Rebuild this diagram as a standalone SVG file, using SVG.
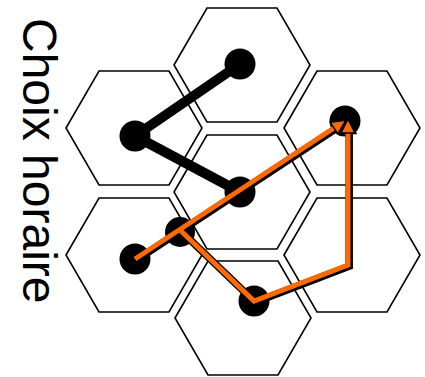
<svg xmlns="http://www.w3.org/2000/svg" width="425" height="377" viewBox="0 0 425 377">
<defs>
<style>
.hex{fill:#fff;stroke:#000;stroke-width:1.6}
.blk{fill:none;stroke:#000;stroke-width:10;stroke-linejoin:round}
.dot{fill:#000}
.sh{fill:none;stroke:#000;stroke-width:7.5;stroke-linejoin:miter}
.or{fill:none;stroke:#ff6a00;stroke-width:5;stroke-linejoin:miter}
.lbl{font-family:"Liberation Sans",Arial,sans-serif;font-size:48px;fill:#000}
</style>
<polygon id="h" points="-68,0 -35,-57 35,-57 68,0 35,57 -35,57"/>
<marker id="ah" markerUnits="userSpaceOnUse" markerWidth="16" markerHeight="16" refX="0" refY="7" orient="auto" overflow="visible">
<path d="M0,0 L14,7 L0,14 z" fill="#ff6a00" stroke="#000" stroke-width="1.5" stroke-linejoin="miter"/>
</marker>
<marker id="ahs" markerUnits="userSpaceOnUse" markerWidth="18" markerHeight="18" refX="0" refY="8" orient="auto" overflow="visible">
<path d="M0,0 L16,8 L0,16 z" fill="#000"/>
</marker>
</defs>
<rect width="425" height="377" fill="#fff"/>
<text class="lbl" transform="translate(23,18) rotate(90)">Choix horaire</text>
<g id="hex-top"><use href="#h" class="hex" x="242" y="65"/></g>
<g id="hex-ul"><use href="#h" class="hex" x="134" y="128"/></g>
<g id="hex-ur"><use href="#h" class="hex" x="352" y="128"/></g>
<g id="hex-c"><use href="#h" class="hex" x="242" y="192"/></g>
<g id="hex-ll"><use href="#h" class="hex" x="134" y="255"/></g>
<g id="hex-lr"><use href="#h" class="hex" x="352" y="255"/></g>
<g id="hex-b"><use href="#h" class="hex" x="243" y="318"/></g>
<g id="connectors">
<polyline class="blk" points="240,64 135,136 240,192"/>
</g>
<g id="dots">
<circle class="dot" cx="240" cy="64" r="15.5"/>
<circle class="dot" cx="135" cy="136" r="15.5"/>
<circle class="dot" cx="240" cy="192" r="15.5"/>
<circle class="dot" cx="180" cy="232" r="15"/>
<circle class="dot" cx="135" cy="259" r="15.5"/>
<circle class="dot" cx="254" cy="301" r="15.5"/>
<circle class="dot" cx="345" cy="121" r="15.5"/>
</g>
<g id="orange-paths">
<g transform="translate(1.2,1.2)">
<polyline class="sh" points="135,259 334,128" marker-end="url(#ahs)"/>
<polyline class="sh" points="180,230 254,301 348,265 348,133" marker-end="url(#ahs)"/>
</g>
<polyline class="or" points="135,259 334,128" marker-end="url(#ah)"/>
<polyline class="or" points="180,230 254,301 348,265 348,133" marker-end="url(#ah)"/>
</g>
</svg>
